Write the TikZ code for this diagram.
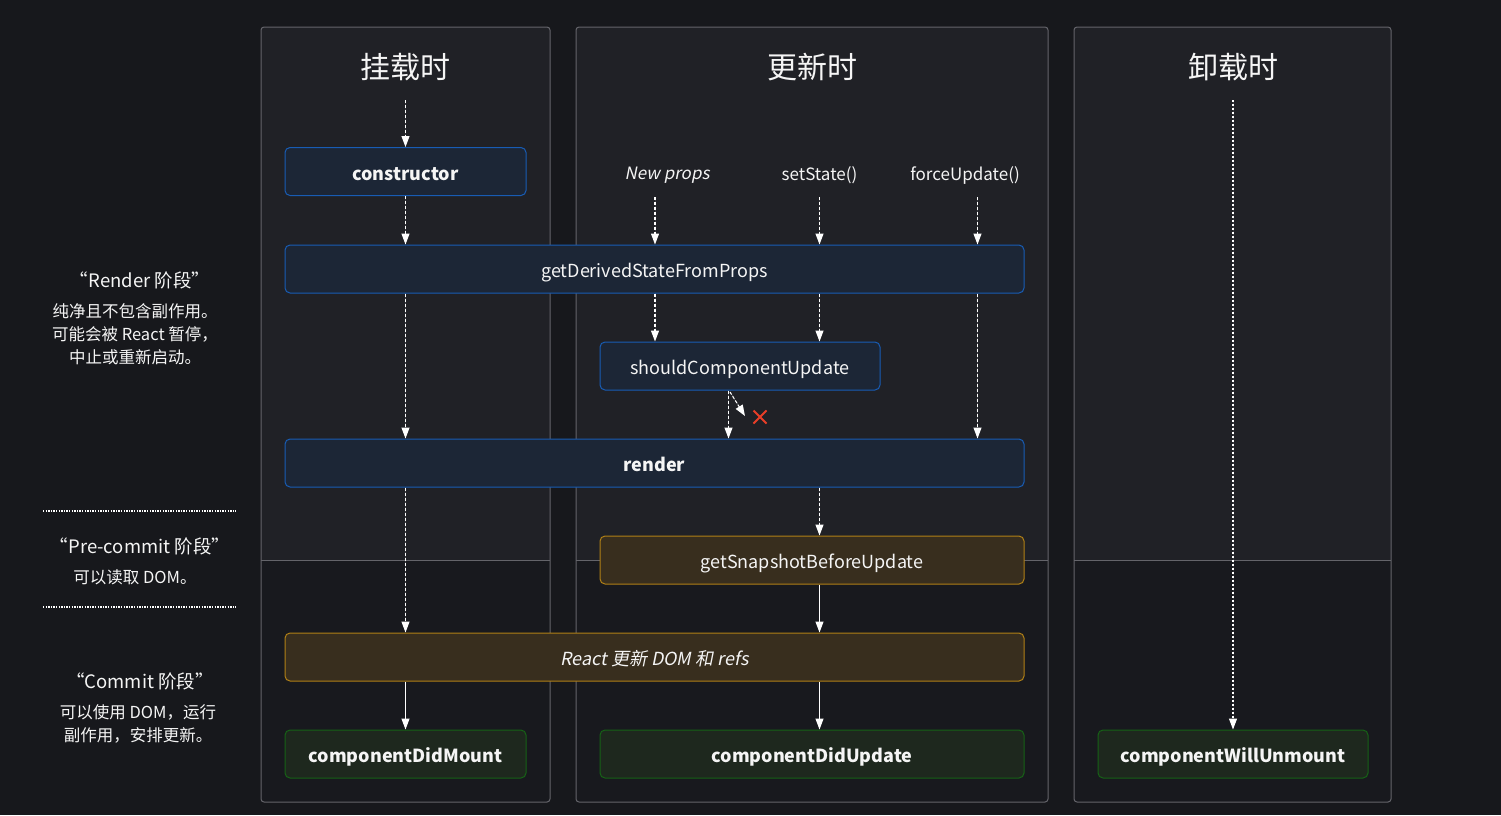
\documentclass[tikz,border=0pt]{standalone}
\usepackage{fontspec}
\setmainfont{Noto Sans CJK SC}[AutoFakeSlant=0.2]
\usetikzlibrary{arrows.meta,shapes.misc}
\definecolor{pagebg}{RGB}{23,24,28}
\definecolor{paneltop}{RGB}{32,33,38}
\definecolor{panelbot}{RGB}{24,25,30}
\definecolor{panelline}{RGB}{100,100,106}
\definecolor{bluefill}{RGB}{28,38,54}
\definecolor{blueline}{RGB}{24,92,180}
\definecolor{brownfill}{RGB}{56,46,30}
\definecolor{brownline}{RGB}{176,128,22}
\definecolor{greenfill}{RGB}{30,40,30}
\definecolor{greenline}{RGB}{22,98,22}
\definecolor{xred}{RGB}{232,62,40}
\definecolor{txt}{RGB}{245,245,245}
\tikzset{
  box/.style={rounded corners=5pt, line width=1pt, text=txt, inner sep=0pt,
    minimum height=48pt, text height=17pt, text depth=0pt,
    font=\fontsize{18}{22}\selectfont},
  bluebox/.style={box, fill=bluefill, draw=blueline},
  brownbox/.style={box, fill=brownfill, draw=brownline},
  greenbox/.style={box, fill=greenfill, draw=greenline},
  dar/.style={draw=white, line width=1.1pt, dash pattern=on 3pt off 2pt,
    -{Triangle[width=8pt,length=11pt]}, fill=white},
  sar/.style={draw=white, line width=1.1pt, -{Triangle[width=8pt,length=11pt]}},
  title/.style={text=txt, font=\fontsize{30}{36}\selectfont},
  sub/.style={text=txt, font=\fontsize{17}{20}\selectfont},
  lhead/.style={text=txt, font=\fontsize{18.5}{22}\selectfont},
  lbody/.style={text=txt, align=center, font=\fontsize{16.5}{23}\selectfont},
  panel/.style={draw=panelline, line width=1pt}
}
\begin{document}
\begin{tikzpicture}[x=1pt,y=-1pt]
\useasboundingbox (0,0) rectangle (1501,815);
\fill[pagebg] (0,0) rectangle (1501,815);
% panels
\foreach \a/\b in {261/550,576/1048,1074/1391}{
  \fill[panelbot, rounded corners=3pt] (\a,27) rectangle (\b,802);
  \fill[paneltop] (\a,560) [rounded corners=3pt]-- (\a,27) -- (\b,27) [sharp corners]-- (\b,560) -- cycle;
  \draw[panelline, line width=1pt] (\a,560) -- (\b,560);
  \draw[panel, rounded corners=3pt] (\a,27) rectangle (\b,802);
}
% titles
\node[title] (t1) at (405,67) {挂载时};
\node[title] (t2) at (812,67) {更新时};
\node[title] (t3) at (1233,67) {卸载时};
% nodes
\node[bluebox, minimum width=241pt, font=\fontsize{18}{22}\selectfont\bfseries] (ctor) at (405.5,171.5) {constructor};
\node[bluebox, minimum width=739pt] (gdsfp) at (654.5,269) {getDerivedStateFromProps};
\node[bluebox, minimum width=280pt] (scu) at (740,366) {shouldComponentUpdate};
\node[bluebox, minimum width=739pt, font=\fontsize{18}{22}\selectfont\bfseries] (render) at (654.5,463) {render};
\node[brownbox, minimum width=424pt] (gsbu) at (812,560) {getSnapshotBeforeUpdate};
\node[brownbox, minimum width=739pt, font=\fontsize{18}{22}\selectfont\itshape] (rudom) at (654.5,657) {React 更新 DOM 和 refs};
\node[greenbox, minimum width=241pt, font=\fontsize{18}{22}\selectfont\bfseries] (cdm) at (405.5,754) {componentDidMount};
\node[greenbox, minimum width=424pt, font=\fontsize{18}{22}\selectfont\bfseries] (cdu) at (812,754) {componentDidUpdate};
\node[greenbox, minimum width=270pt, font=\fontsize{18}{22}\selectfont\bfseries] (cwu) at (1233,754) {componentWillUnmount};
% update triggers
\node[sub, font=\fontsize{17}{20}\selectfont\itshape] (newprops) at (667,175) {New props};
\node[sub] (setstate) at (819.5,175) {setState()};
\node[sub] (force) at (965,175) {forceUpdate()};
% red cross
\node[cross out, draw=xred, line width=2pt, minimum size=11pt, inner sep=0pt] (xm) at (760,417) {};
% coordinates
\coordinate (mtop) at (405.5,100);
\coordinate (utop) at (1233,100);
\coordinate (npS) at (655,197);
\coordinate (ssS) at (819.5,197);
\coordinate (fuS) at (977.5,197);
\coordinate (scuX) at (728.5,0);
\coordinate (xs) at (730,392);
\coordinate (xe) at (745,416);
% mount arrows
\draw[dar] (mtop) -- (ctor.north);
\draw[dar] (ctor.south) -- (ctor.south |- gdsfp.north);
\draw[dar] (ctor.south |- gdsfp.south) -- (ctor.south |- render.north);
\draw[dar] (ctor.south |- render.south) -- (ctor.south |- rudom.north);
\draw[sar] (cdm.north |- rudom.south) -- (cdm.north);
% update arrows
\draw[dar] (npS) -- (npS |- gdsfp.north);
\draw[dar] (ssS) -- (ssS |- gdsfp.north);
\draw[dar] (fuS) -- (fuS |- gdsfp.north);
\draw[dar] (npS |- gdsfp.south) -- (npS |- scu.north);
\draw[dar] (ssS |- gdsfp.south) -- (ssS |- scu.north);
\draw[dar] (fuS |- gdsfp.south) -- (fuS |- render.north);
\draw[dar] (scuX |- scu.south) -- (scuX |- render.north);
\draw[dar] (xs) -- (xe);
\draw[dar] (ssS |- render.south) -- (ssS |- gsbu.north);
\draw[sar] (ssS |- gsbu.south) -- (ssS |- rudom.north);
\draw[sar] (ssS |- rudom.south) -- (ssS |- cdu.north);
% unmount arrow
\draw[dar, dash pattern=on 2pt off 2pt] (utop) -- (cwu.north);
% left labels
\node[lhead] (rh) at (140,280) {“Render 阶段”};
\node[lbody] (rb) at (135,334) {纯净且不包含副作用。\\可能会被 React 暂停，\\中止或重新启动。};
\node[lhead] (ph) at (140,546) {“Pre-commit 阶段”};
\node[lbody] (pb) at (135,577) {可以读取 DOM。};
\node[lhead] (ch) at (140,681) {“Commit 阶段”};
\node[lbody] (cb) at (138,723.5) {可以使用 DOM，运行\\副作用，安排更新。};
\draw[white, line width=1.3pt, dash pattern=on 1.3pt off 1.3pt] (43,511) -- (236,511);
\draw[white, line width=1.3pt, dash pattern=on 1.3pt off 1.3pt] (43,607) -- (236,607);
\end{tikzpicture}
\end{document}
